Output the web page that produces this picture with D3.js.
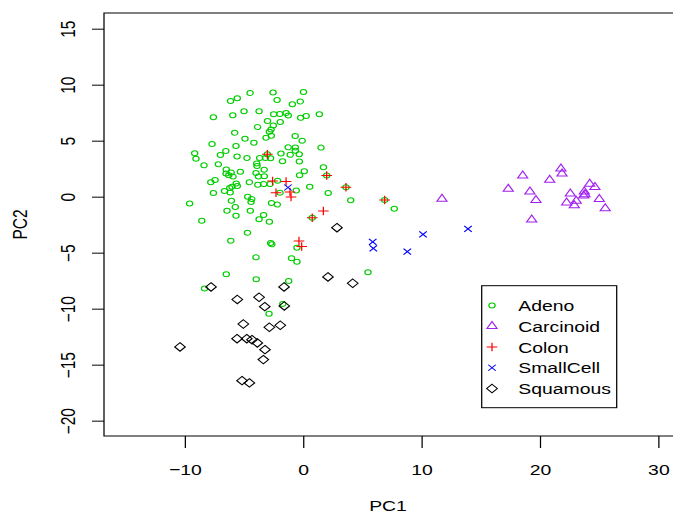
<!DOCTYPE html>
<html>
<head>
<meta charset="utf-8">
<script src="https://cdn.jsdelivr.net/npm/d3@7"></script>
<style>
  html, body { margin: 0; padding: 0; background: #fff; overflow: hidden; }
  text { font-family: "Liberation Sans", Arial, Helvetica, sans-serif; fill: #000; }
</style>
</head>
<body>
<div id="chart"></div>
<script>
// Principal component scores per tissue class
const adenoPC1 = [-4.48,-2.54,0.03,-6.13,-5.56,-2.20,-0.91,-0.24,-7.58,-5.94,
  -4.99,-3.72,-2.49,-1.97,-1.44,-1.25,-0.21,0.26,1.37,-3.01,
  -1.93,-3.85,-2.52,-2.71,-2.85,-5.78,-0.67,-0.08,-4.91,-4.16,
  -3.13,-2.69,-7.69,-5.67,-1.26,-0.66,-0.66,1.51,-6.53,-6.99,
  -5.58,-4.74,-3.67,-1.87,-1.09,-0.33,-9.16,-9.05,-8.37,-7.16,
  -3.92,-3.89,-3.18,-2.75,-1.74,-0.32,1.72,-6.49,-6.51,-6.08,
  -6.28,-5.92,-5.30,-3.98,-3.77,-3.28,-3.29,-0.30,0.10,-7.80,
  -7.44,-5.65,-5.56,-6.01,-4.54,-3.83,-3.33,-2.80,-2.16,-0.58,
  0.56,-6.64,-6.20,-6.16,-7.58,-1.95,2.12,1.99,-3.02,3.62,
  6.89,0.77,4.02,7.70,-9.59,-6.06,-4.68,-4.34,-4.40,-2.67,
  -2.18,-6.43,-5.73,-4.46,-5.67,-3.34,-3.72,-2.85,-8.56,-4.70,
  -6.11,-2.74,-2.64,-0.52,-3.98,-0.98,-0.52,-6.49,-3.96,-1.22,
  -8.33,-1.72,-2.88,5.48];
const adenoPC2 = [9.26,9.30,9.35,8.54,8.79,8.63,8.25,8.50,7.09,7.28,
  7.63,7.63,7.36,7.38,7.47,7.25,7.04,7.21,7.36,6.76,
  6.67,6.22,6.36,5.99,5.80,5.71,5.42,5.00,5.17,4.82,
  5.27,5.44,4.71,4.53,4.41,4.39,4.10,4.38,4.08,3.72,
  3.59,3.46,3.46,3.86,3.74,3.79,3.88,3.39,2.80,2.89,
  2.96,2.74,3.46,3.43,3.16,3.14,2.63,2.43,2.06,2.16,
  1.91,1.80,2.23,2.12,1.80,1.82,2.41,1.92,2.27,1.29,
  1.49,1.18,0.96,0.89,1.29,1.07,1.13,1.13,1.43,0.55,
  0.89,0.51,0.78,0.38,0.33,0.36,0.33,1.89,3.79,0.84,
  -0.29,-1.88,-0.31,-1.07,-0.61,-0.36,0.00,-0.21,-0.47,-0.56,
  -0.71,-1.25,-0.92,-1.25,-1.70,-1.63,-2.01,-2.23,-2.15,-3.22,
  -3.93,-4.13,-4.25,-4.56,-5.41,-5.50,-5.80,-6.92,-7.37,-7.54,
  -8.20,-9.58,-10.45,-6.75];

const carcinoidPC1 = [21.78,21.87,18.55,20.83,17.33,19.16,19.67,19.31,24.21,24.65,
  23.75,23.70,23.81,22.57,25.02,25.52,22.26,22.91,23.07,11.73];
const carcinoidPC2 = [2.50,2.05,1.88,1.49,0.69,0.45,-0.32,-2.05,1.13,0.84,
  0.45,0.09,0.20,0.27,-0.23,-1.04,-0.54,-0.77,-0.38,-0.21];

const colonPC1 = [-3.02,1.99,-2.58,-1.44,-2.29,-1.11,-1.02,3.62,6.89,1.71,0.77,-0.35,-0.12];
const colonPC2 = [3.79,1.89,1.40,1.36,0.36,0.42,-0.03,0.84,-0.29,-1.28,-1.88,-3.96,-4.45];

const smallCellPC1 = [-1.28,5.88,5.93,8.80,10.13,13.93];
const smallCellPC2 = [0.82,-4.04,-4.61,-4.91,-3.36,-2.88];

const squamousPC1 = [-7.78,-5.56,-3.72,-3.24,-1.61,-1.59,-5.05,-2.85,-1.93,-10.40,
  -5.58,-4.76,-4.32,-3.87,-3.22,-3.36,-5.16,-4.54,2.86,2.10,4.19];
const squamousPC2 = [-8.06,-9.18,-8.98,-9.82,-8.06,-9.76,-11.37,-11.66,-11.48,-13.42,
  -12.68,-12.68,-12.77,-13.06,-13.66,-14.55,-16.43,-16.63,-2.77,-7.17,-7.73];

const classNames = ["Adeno", "Carcinoid", "Colon", "SmallCell", "Squamous"];
const xTicks = [-10, 0, 10, 20, 30];
const yTicks = [-20, -15, -10, -5, 0, 5, 10, 15];
const xLimits = [-16.82, 31.33];
const yLimits = [-21.37, 16.40];

// Page is drawn in a horizontally compressed space, then stretched to the window
const W = 673, H = 516, SX = 1.25, NW = W / SX;
const box = { left: 104 / SX, right: 674 / SX, top: 13, bottom: 436 };

const svg = d3.select("#chart").append("svg")
  .attr("width", W).attr("height", H)
  .attr("viewBox", `0 0 ${NW} ${H}`)
  .attr("preserveAspectRatio", "none");

const x = d3.scaleLinear().domain(xLimits).range([box.left, box.right]);
const y = d3.scaleLinear().domain(yLimits).range([box.bottom, box.top]);

const FS = 15.5;
const minus = v => (v < 0 ? "\u2212" + Math.abs(v) : String(v));

// Plotting symbols (base-graphics style: circle, triangle, plus, cross, diamond)
const B = 3, RC = 2.5;
const symbolPath = {
  circle: (cx, cy) => `M${cx + RC},${cy}A${RC},${RC} 0 1,1 ${cx - RC},${cy}A${RC},${RC} 0 1,1 ${cx + RC},${cy}Z`,
  triangle: (cx, cy) => {
    const r = 1.5551 * B, xc = 1.3468 * B, yc = 0.7776 * B;
    return `M${cx},${cy - r}L${cx + xc},${cy + yc}L${cx - xc},${cy + yc}Z`;
  },
  plus: (cx, cy) => {
    const h = Math.SQRT2 * B;
    return `M${cx - h},${cy}L${cx + h},${cy}M${cx},${cy - h}L${cx},${cy + h}`;
  },
  cross: (cx, cy) => {
    const h = B;
    return `M${cx - h},${cy - h}L${cx + h},${cy + h}M${cx - h},${cy + h}L${cx + h},${cy - h}`;
  },
  diamond: (cx, cy) => {
    const h = Math.SQRT2 * B;
    return `M${cx},${cy - h}L${cx + h},${cy}L${cx},${cy + h}L${cx - h},${cy}Z`;
  }
};

const series = [
  { name: classNames[0], pc1: adenoPC1, pc2: adenoPC2, color: "#00CD00", shape: "circle" },
  { name: classNames[1], pc1: carcinoidPC1, pc2: carcinoidPC2, color: "#A020F0", shape: "triangle" },
  { name: classNames[2], pc1: colonPC1, pc2: colonPC2, color: "#FF0000", shape: "plus" },
  { name: classNames[3], pc1: smallCellPC1, pc2: smallCellPC2, color: "#0000FF", shape: "cross" },
  { name: classNames[4], pc1: squamousPC1, pc2: squamousPC2, color: "#000000", shape: "diamond" }
];

// Axes
const xAxis = d3.axisBottom(x).tickValues(xTicks).tickSize(12).tickPadding(16.5).tickFormat(minus);
const gx = svg.append("g").attr("transform", `translate(0,${box.bottom})`).call(xAxis);
gx.select(".domain").remove();
gx.selectAll("text").attr("font-size", FS).attr("font-family", null);

const yAxis = d3.axisLeft(y).tickValues(yTicks).tickSize(12 / SX).tickFormat(minus);
const gy = svg.append("g").attr("transform", `translate(${box.left},0)`).call(yAxis);
gy.select(".domain").remove();
gy.selectAll("text")
  .attr("font-size", FS).attr("font-family", null)
  .attr("transform", "rotate(-90)")
  .attr("x", 0).attr("y", -(104 - 75) / SX).attr("dy", 0)
  .attr("text-anchor", "middle");

// Plot frame
svg.append("rect")
  .attr("x", box.left).attr("y", box.top)
  .attr("width", box.right - box.left).attr("height", box.bottom - box.top)
  .attr("fill", "none").attr("stroke", "#000").attr("stroke-width", 1);

// Axis titles
svg.append("text")
  .attr("x", (104 + 672) / 2 / SX).attr("y", 511)
  .attr("text-anchor", "middle").attr("font-size", FS).text("PC1");
svg.append("text")
  .attr("transform", `translate(${27.3 / SX},${(box.top + box.bottom) / 2}) rotate(-90)`)
  .attr("text-anchor", "middle").attr("font-size", FS).text("PC2");

// Points
const marks = svg.append("g");
series.forEach(s => {
  const pts = s.pc1.map((v, i) => [v, s.pc2[i]]);
  marks.append("g").selectAll("path").data(pts).join("path")
    .attr("d", d => symbolPath[s.shape](x(d[0]), y(d[1])))
    .attr("fill", "none").attr("stroke", s.color).attr("stroke-width", 1);
});

// Legend
const lg = { left: 481.7 / SX, top: 285.7, right: 616.7 / SX, bottom: 407.7 };
const legend = svg.append("g");
legend.append("rect")
  .attr("x", lg.left).attr("y", lg.top)
  .attr("width", lg.right - lg.left).attr("height", lg.bottom - lg.top)
  .attr("fill", "#fff").attr("stroke", "#000").attr("stroke-width", 1);
const rowY = d3.scalePoint().domain(classNames).range([305.5, 388.5]);
series.forEach(s => {
  const cy = rowY(s.name);
  legend.append("path")
    .attr("d", symbolPath[s.shape](492 / SX, cy))
    .attr("fill", "none").attr("stroke", s.color).attr("stroke-width", 1);
  legend.append("text")
    .attr("x", 518.3 / SX).attr("y", cy + 5.6)
    .attr("font-size", FS).text(s.name);
});
</script>
</body>
</html>
